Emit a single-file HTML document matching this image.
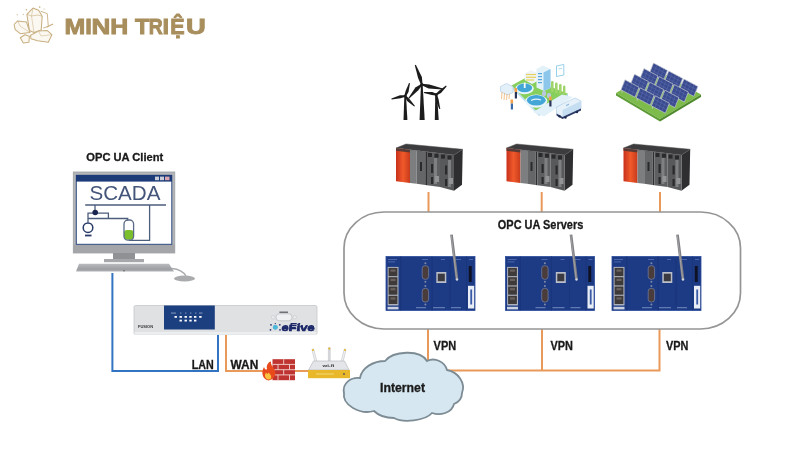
<!DOCTYPE html>
<html><head><meta charset="utf-8"><style>
html,body{margin:0;padding:0;background:#fff;width:800px;height:450px;overflow:hidden}
svg{display:block;position:absolute;left:0;top:0;will-change:transform}
text{font-family:"Liberation Sans",sans-serif}
</style></head><body>
<svg width="800" height="450" viewBox="0 0 800 450">
<defs>
  <linearGradient id="redg" x1="0" x2="1" y1="0" y2="0">
    <stop offset="0" stop-color="#c8301c"/><stop offset="0.5" stop-color="#f05a2a"/><stop offset="1" stop-color="#c83a1c"/>
  </linearGradient>
  <g id="dev">
    <rect x="0" y="0" width="89" height="54" fill="#1d3a84"/>
    <rect x="0" y="0" width="89" height="54" fill="none" stroke="#2b4c9c" stroke-width="0.8"/>
    <g fill="#5a74b4"><rect x="2" y="2.5" width="9" height="0.8"/><rect x="2" y="5" width="7" height="0.8"/><rect x="36" y="2.5" width="6" height="0.8"/><rect x="55" y="2.5" width="4" height="0.8"/><rect x="68" y="2.5" width="7" height="0.8"/><rect x="83" y="2.5" width="4" height="0.8"/></g>
    <path d="M14.8 0 V54 M46 0 V54 M64 4 V50 M80.5 0 V54" stroke="#19347a" stroke-width="0.9"/>
    <rect x="1.6" y="10.4" width="10.9" height="38.6" fill="#aeb3bd"/>
    <g fill="#3f3a3a"><rect x="2.6" y="11.4" width="8.8" height="8.2"/><rect x="2.6" y="20.7" width="8.8" height="8.2"/><rect x="2.6" y="30" width="8.8" height="8.2"/><rect x="2.6" y="39.3" width="8.8" height="8.2"/></g>
    <g fill="#6a625e"><rect x="4.5" y="13" width="5" height="2.2"/><rect x="4.5" y="22.3" width="5" height="2.2"/><rect x="4.5" y="31.6" width="5" height="2.2"/><rect x="4.5" y="40.9" width="5" height="2.2"/></g>
    <rect x="1.5" y="50.3" width="11" height="2.6" fill="#c9d0e0"/>
    <rect x="36.2" y="9.2" width="6.4" height="13.6" rx="2.8" fill="#4a3c3a" stroke="#6a7496" stroke-width="0.9"/>
    <rect x="36.2" y="31.9" width="6.4" height="13.6" rx="2.8" fill="#4a3c3a" stroke="#6a7496" stroke-width="0.9"/>
    <g fill="#7f8aa8"><circle cx="39.4" cy="6.8" r="1"/><circle cx="39.4" cy="25.2" r="1"/><circle cx="39.4" cy="29.5" r="1"/><circle cx="39.4" cy="47.9" r="1"/></g>
    <rect x="50.3" y="15.5" width="10" height="11" fill="#b9bec8"/>
    <rect x="51.8" y="17.2" width="7" height="7.5" fill="#3a3a40"/>
    <rect x="82.8" y="9.5" width="2.9" height="16" fill="#0e1224"/>
    <rect x="82" y="29.3" width="6.2" height="22.7" fill="#e9edf5"/>
    <rect x="84.3" y="33" width="1.8" height="15" fill="#3a5aa8"/>
    <g fill="#7f95c8"><rect x="30" y="50.8" width="10" height="0.9"/><rect x="47" y="50.8" width="12" height="0.9"/><rect x="65" y="50.8" width="10" height="0.9"/></g>
    <line x1="65.5" y1="-21.8" x2="71" y2="23" stroke="#808084" stroke-width="2.7"/>
    <line x1="65.3" y1="-21" x2="70.6" y2="22" stroke="#a8a8ac" stroke-width="0.8"/>
    <circle cx="71" cy="23" r="1.2" fill="#d0d4dc"/>
  </g>
  <g id="plc">
    <polygon points="0,0 10,-4 66.7,1.3 58,7" fill="#3c3c3e"/>
    <polygon points="58,7 66.7,1.3 66,36.7 58,42.7" fill="#2e2e30"/>
    <polygon points="0,0 14,1.7 14,35 0,33.3" fill="url(#redg)"/>
    <polygon points="0,0 14,1.7 14,4.5 0,2.8" fill="#5a3a34"/>
    <polygon points="14,1.7 20.7,2.5 20.7,35.8 14,35" fill="#7c7e80"/>
    <polygon points="20.7,2.5 29.3,3.5 29.3,37 20.7,35.8" fill="#646668"/>
    <polygon points="29.3,3.5 31,3.7 31,37.2 29.3,37" fill="#303032"/>
    <polygon points="31,3.7 44,5.3 44,39 31,37.2" fill="#5d5f61"/>
    <polygon points="44,5.3 58,7 58,42.7 44,39" fill="#58595b"/>
    <g fill="#2a2a2c">
      <rect x="32" y="5" width="4" height="4"/><rect x="38.5" y="5.7" width="4" height="4"/><rect x="45" y="6.6" width="4" height="4"/><rect x="51.5" y="7.4" width="4" height="4"/>
      <rect x="35" y="16" width="2.2" height="9"/><rect x="49" y="17.5" width="2.2" height="9"/>
      <rect x="35" y="29" width="2.2" height="7"/><rect x="49" y="31" width="2.2" height="7"/>
      <rect x="24" y="14" width="2" height="9"/>
    </g>
    <g fill="#7e8082"><rect x="38" y="10" width="3" height="26"/><rect x="52" y="12" width="3" height="27"/></g>
    <g fill="#929496"><rect x="39" y="28" width="4" height="6"/><rect x="53" y="30" width="4" height="6"/></g>
    <polygon points="0,0 10,-4 66.7,1.3 58,7" fill="none" stroke="#555" stroke-width="0.5"/>
  </g>
  <linearGradient id="kbg" x1="0" x2="0" y1="0" y2="1"><stop offset="0" stop-color="#b9bbbe"/><stop offset="0.7" stop-color="#9c9ea1"/><stop offset="1" stop-color="#b0b2b5"/></linearGradient>
</defs>

<!-- LOGO -->
<g id="logo" fill="none" stroke="#c8af80" stroke-width="1.05" stroke-linejoin="round">
  <polygon points="26.9,14.3 33,8.1 38.6,10.2 42.2,16.3 41.2,30.1 34,32.6 29.4,30.6" fill="#fbf8f2"/>
  <polyline points="26.9,14.3 31.5,16 38,15 42.2,16.3" stroke-width="0.6"/>
  <polyline points="33,8.1 31.5,16 34,32.6 M38,15 38.6,10.2" stroke-width="0.5"/>
  <polyline points="40.7,11.2 47.3,13.7 48.3,26.5 43.2,28" stroke-width="0.9"/>
  <polygon points="14.1,24.5 17.7,20.9 26.4,21.9 30,32.6 20.3,33.7 15.2,29.6" fill="#fbf8f2"/>
  <polyline points="17.7,20.9 20,26 30,32.6 M14.1,24.5 20,26" stroke-width="0.5"/>
  <polygon points="30.5,35.2 38.6,31.1 47.3,30.6 51.9,34.7 48.3,42.3 37.6,40.8 31,38.8" fill="#fbf8f2"/>
  <polyline points="38.6,31.1 41,36 51.9,34.7 M31,38.8 41,36 48.3,42.3" stroke-width="0.5"/>
  <polygon points="20.3,37.8 24.9,34.7 29.4,36.2 28.9,42.3 23.3,42.9" fill="#fbf8f2"/>
  <line x1="46.8" y1="27" x2="53" y2="24"/>
  <g fill="#c8af80" stroke="none"><circle cx="26.4" cy="9.7" r="0.8"/><circle cx="39.7" cy="7.1" r="0.8"/><circle cx="23.3" cy="14.3" r="0.6"/><circle cx="17.2" cy="14.8" r="0.6"/><circle cx="44" cy="9" r="0.6"/></g>
</g>
<g id="logotext"><text x="64.40" y="34" font-size="22" font-weight="bold" fill="#a88e5c" stroke="#a88e5c" stroke-width="0.9" textLength="20.76" lengthAdjust="spacingAndGlyphs">M</text><text x="85.3" y="34" font-size="22" font-weight="bold" fill="#a88e5c" stroke="#a88e5c" stroke-width="0.9" textLength="6.6" lengthAdjust="spacingAndGlyphs">I</text><text x="91.50" y="34" font-size="22" font-weight="bold" fill="#a88e5c" stroke="#a88e5c" stroke-width="0.9" textLength="18.84" lengthAdjust="spacingAndGlyphs">N</text><text x="110.20" y="34" font-size="22" font-weight="bold" fill="#a88e5c" stroke="#a88e5c" stroke-width="0.9" textLength="18.00" lengthAdjust="spacingAndGlyphs">H</text><text x="135" y="34" font-size="22" font-weight="bold" fill="#a88e5c" stroke="#a88e5c" stroke-width="0.9" textLength="14.4" lengthAdjust="spacingAndGlyphs">T</text><text x="148.8" y="34" font-size="22" font-weight="bold" fill="#a88e5c" stroke="#a88e5c" stroke-width="0.9" textLength="14.0" lengthAdjust="spacingAndGlyphs">R</text><text x="162.4" y="34" font-size="22" font-weight="bold" fill="#a88e5c" stroke="#a88e5c" stroke-width="0.9" textLength="6.6" lengthAdjust="spacingAndGlyphs">I</text><text x="170.20" y="34" font-size="22" font-weight="bold" fill="#a88e5c" stroke="#a88e5c" stroke-width="0.9" textLength="14.40" lengthAdjust="spacingAndGlyphs">Ệ</text><text x="186.00" y="34" font-size="22" font-weight="bold" fill="#a88e5c" stroke="#a88e5c" stroke-width="0.9" textLength="19.80" lengthAdjust="spacingAndGlyphs">U</text></g>

<!-- MONITOR -->
<g id="monitor">
  <rect x="73.3" y="172" width="101.5" height="81" fill="#b3b5b8" stroke="#9d9fa2" stroke-width="0.8"/>
  <rect x="73.3" y="244.5" width="101.5" height="8.5" fill="#a3a5a8"/>
  <rect x="76.3" y="175.3" width="95.5" height="69" fill="#fff" stroke="#2c4a80" stroke-width="1"/>
  <rect x="76" y="175" width="96" height="6.6" fill="#1d3a78"/>
  <g fill="#c9ccd6"><rect x="155" y="176.6" width="4" height="3.6"/><rect x="160" y="176.6" width="4" height="3.6"/></g>
  <rect x="165" y="176.6" width="4.5" height="3.6" fill="#d9a6b0"/>
  <rect x="113" y="253" width="22" height="6" fill="#8f9194"/>
  <rect x="104" y="259" width="40" height="3.2" fill="#a5a7aa"/>
  <polygon points="79,263.8 169,263.8 174,271.5 76,271.5" fill="url(#kbg)"/>
  <circle cx="124" cy="270.8" r="0.7" fill="#555"/>
  <path d="M172 268.5 Q182 269.5 186 276" stroke="#a8aaad" stroke-width="1.3" fill="none"/>
  <ellipse cx="184.5" cy="278.5" rx="10.5" ry="3" fill="#a9abad"/>
</g>
<g id="scada" fill="none" stroke="#4d5d7c" stroke-width="1.3">
  <path d="M85.2 205 H166 M95 205 V212.5 M88 222.5 V213.1 H108.4 V218.5 M88 218.5 H127.7 V220.5 M129 240.3 H149.6 V205"/>
  <circle cx="95.2" cy="212.5" r="2.8" fill="#1a2550" stroke="none"/>
  <circle cx="88" cy="227.7" r="4.8" fill="#fff" stroke="#2a3a6a" stroke-width="1.5"/>
  <path d="M85 235.5 H91.5" stroke="#2a3a6a" stroke-width="1.8"/>
  <rect x="124" y="230" width="9.5" height="9.8" rx="3" fill="#7cbf2c" stroke="none"/>
  <rect x="124" y="220" width="9.6" height="20.2" rx="4" stroke="#5a6a88"/>
</g>
<text x="89.5" y="200" font-size="21" fill="#44557a" textLength="71" lengthAdjust="spacingAndGlyphs">SCADA</text>

<!-- LINES -->
<g fill="none" stroke-width="2">
  <path d="M112.4 273 V371 H218 V334" stroke="#3274c2"/>
  <path d="M226 334 V371 H345" stroke="#e9995a"/>
  <path d="M428 329 V361 M445 370.5 H659.5 V329 M542 329 V370.5" stroke="#e9995a"/>
  <path d="M428.5 192 V212 M541.7 192 V212 M660 192 V212" stroke="#e9995a"/>
</g>

<!-- EFIVE -->
<g id="efive">
  <rect x="134" y="305.5" width="183" height="29" rx="1.5" fill="#dfe1e3" stroke="#c4c6c9" stroke-width="0.8"/>
  <rect x="134.5" y="332" width="182" height="2.8" fill="#eceef0"/>
  <rect x="164" y="305.5" width="50.8" height="24" fill="#1c3f80"/>
  <g fill="#ffffff">
    <rect x="174.5" y="316" width="2.4" height="1.8"/><rect x="179.5" y="316" width="2.4" height="1.8"/><rect x="184.5" y="316" width="2.4" height="1.8"/><rect x="189.3" y="316" width="2.4" height="1.8"/><rect x="194" y="316" width="2.4" height="1.8"/><rect x="199.2" y="316" width="2.4" height="1.8"/>
    <rect x="179.5" y="319.7" width="2.4" height="1.8"/><rect x="184.5" y="319.7" width="2.4" height="1.8"/><rect x="189.3" y="319.7" width="2.4" height="1.8"/><rect x="194" y="319.7" width="2.4" height="1.8"/>
  </g>
  <g fill="#8fa3c8"><rect x="171" y="312.6" width="5" height="0.9"/><rect x="180" y="312.6" width="1.4" height="0.9"/><rect x="185" y="312.6" width="1.4" height="0.9"/><rect x="190" y="312.6" width="1.4" height="0.9"/><rect x="195" y="312.6" width="1.4" height="0.9"/><rect x="199" y="312.6" width="3.5" height="0.9"/></g>
  <text x="138" y="327.8" font-size="4.2" font-weight="bold" fill="#333" textLength="15" lengthAdjust="spacingAndGlyphs">FUSION</text>
  <rect x="279.4" y="311.5" width="8.6" height="1.6" fill="#6f7174"/>
  <rect x="276" y="313.8" width="16" height="7" rx="3.2" fill="#eef0f2" stroke="#c3c5c8" stroke-width="0.9"/>
  <circle cx="273.2" cy="317.3" r="1.8" fill="#e9ebed" stroke="#c6c8cb" stroke-width="0.6"/>
  <circle cx="294.8" cy="317.3" r="1.8" fill="#e9ebed" stroke="#c6c8cb" stroke-width="0.6"/>
  <g fill="#2a3570"><circle cx="271" cy="324.8" r="0.9"/><circle cx="279.8" cy="324.8" r="0.9"/><circle cx="270.5" cy="329.8" r="0.9"/><circle cx="280" cy="329.8" r="0.9"/><circle cx="275.3" cy="323.6" r="0.7"/></g>
  <circle cx="275.3" cy="327.3" r="2.4" fill="#4cb6dc"/>
  <text x="281.6" y="330.8" font-size="9.8" font-weight="bold" fill="#1f2a6a" stroke="#1f2a6a" stroke-width="0.5" textLength="33" lengthAdjust="spacingAndGlyphs">eFive</text>
</g>
  <circle cx="275.3" cy="327.3" r="2.3" fill="#4fb8d8"/>
  <text x="281.5" y="330.8" font-size="10" font-weight="bold" font-style="italic" fill="#1f2a6a" textLength="33" lengthAdjust="spacingAndGlyphs">eFive</text>
</g>

<!-- ICONS -->
<g id="turbines" fill="#1c1c1c"><polygon points="420.9,85.5 422.7,85.5 424.7,120 419.6,120"/><polygon points="422.6,84.2 421.9,76.9 415.8,64.8 414.8,65.2 418.1,78.1 421.0,84.8"/><polygon points="421.2,83.9 415.4,87.6 408.4,97.9 409.2,98.5 418.3,90.3 422.4,85.1"/><polygon points="421.6,85.3 428.6,88.5 442.6,89.4 442.8,88.4 429.4,84.6 422.0,83.7"/><circle cx="421.8" cy="84.5" r="1.6"/><polygon points="404.3,97.0 406.1,97.0 407.4,120 403.5,120"/><polygon points="406.0,96.3 408.5,92.1 410.0,83.3 409.0,82.9 405.6,91.1 404.4,95.7"/><polygon points="405.0,95.2 400.0,95.2 391.4,98.5 391.6,99.5 400.6,98.2 405.4,96.8"/><polygon points="404.6,96.5 407.1,100.9 414.2,106.5 415.0,105.9 409.3,98.8 405.8,95.5"/><circle cx="405.2" cy="96.0" r="1.6"/><polygon points="435.3,95.6 437.1,95.6 438.7,120 434.8,120"/><polygon points="436.7,95.2 441.0,93.0 446.6,86.4 446.0,85.6 439.0,90.7 435.7,94.0"/><polygon points="436.3,93.8 432.3,92.0 424.1,92.0 423.9,93.0 431.7,95.0 436.1,95.4"/><polygon points="435.4,94.8 435.6,100.1 439.3,109.1 440.3,108.9 438.6,99.4 437.0,94.4"/><circle cx="436.2" cy="94.6" r="1.6"/></g>
<g id="solar"><polygon points="616,93 656,69 701,94.5 660,119" fill="#7dbb4a"/><polygon points="616,93 660,119 660,121.5 616,95.5" fill="#5e9c35"/><polygon points="660,119 701,94.5 701,97 660,121.5" fill="#4f8a2c"/><line x1="650.5" y1="73.5" x2="650.5" y2="76.0" stroke="#c7ccd2" stroke-width="0.8"/><polygon points="649.5,73.0 663.5,80.4 667.5,70.4 653.5,63.0" fill="#3b4b90" stroke="#c9cdd6" stroke-width="0.7"/><line x1="650.8" y1="69.7" x2="664.8" y2="77.0" stroke="#6676b4" stroke-width="0.4"/><line x1="652.2" y1="66.4" x2="666.2" y2="73.7" stroke="#6676b4" stroke-width="0.4"/><line x1="653.0" y1="74.9" x2="657.0" y2="64.9" stroke="#6676b4" stroke-width="0.4"/><line x1="656.5" y1="76.7" x2="660.5" y2="66.7" stroke="#6676b4" stroke-width="0.4"/><line x1="660.0" y1="78.5" x2="664.0" y2="68.5" stroke="#6676b4" stroke-width="0.4"/><line x1="665.7" y1="81.5" x2="665.7" y2="84.0" stroke="#c7ccd2" stroke-width="0.8"/><polygon points="664.7,81.0 678.7,88.4 682.7,78.4 668.7,71.0" fill="#3b4b90" stroke="#c9cdd6" stroke-width="0.7"/><line x1="666.0" y1="77.7" x2="680.0" y2="85.0" stroke="#6676b4" stroke-width="0.4"/><line x1="667.4" y1="74.4" x2="681.4" y2="81.7" stroke="#6676b4" stroke-width="0.4"/><line x1="668.2" y1="82.9" x2="672.2" y2="72.9" stroke="#6676b4" stroke-width="0.4"/><line x1="671.7" y1="84.7" x2="675.7" y2="74.7" stroke="#6676b4" stroke-width="0.4"/><line x1="675.2" y1="86.5" x2="679.2" y2="76.5" stroke="#6676b4" stroke-width="0.4"/><line x1="680.9" y1="89.5" x2="680.9" y2="92.0" stroke="#c7ccd2" stroke-width="0.8"/><polygon points="679.9,89.0 693.9,96.4 697.9,86.4 683.9,79.0" fill="#3b4b90" stroke="#c9cdd6" stroke-width="0.7"/><line x1="681.2" y1="85.7" x2="695.2" y2="93.0" stroke="#6676b4" stroke-width="0.4"/><line x1="682.6" y1="82.4" x2="696.6" y2="89.7" stroke="#6676b4" stroke-width="0.4"/><line x1="683.4" y1="90.9" x2="687.4" y2="80.9" stroke="#6676b4" stroke-width="0.4"/><line x1="686.9" y1="92.7" x2="690.9" y2="82.7" stroke="#6676b4" stroke-width="0.4"/><line x1="690.4" y1="94.5" x2="694.4" y2="84.5" stroke="#6676b4" stroke-width="0.4"/><line x1="641.0" y1="79.1" x2="641.0" y2="81.6" stroke="#c7ccd2" stroke-width="0.8"/><polygon points="640.0,78.6 654.0,86.0 658.0,76.0 644.0,68.6" fill="#3b4b90" stroke="#c9cdd6" stroke-width="0.7"/><line x1="641.3" y1="75.3" x2="655.3" y2="82.6" stroke="#6676b4" stroke-width="0.4"/><line x1="642.7" y1="72.0" x2="656.7" y2="79.3" stroke="#6676b4" stroke-width="0.4"/><line x1="643.5" y1="80.5" x2="647.5" y2="70.5" stroke="#6676b4" stroke-width="0.4"/><line x1="647.0" y1="82.3" x2="651.0" y2="72.3" stroke="#6676b4" stroke-width="0.4"/><line x1="650.5" y1="84.1" x2="654.5" y2="74.1" stroke="#6676b4" stroke-width="0.4"/><line x1="656.2" y1="87.1" x2="656.2" y2="89.6" stroke="#c7ccd2" stroke-width="0.8"/><polygon points="655.2,86.6 669.2,94.0 673.2,84.0 659.2,76.6" fill="#3b4b90" stroke="#c9cdd6" stroke-width="0.7"/><line x1="656.5" y1="83.3" x2="670.5" y2="90.6" stroke="#6676b4" stroke-width="0.4"/><line x1="657.9" y1="80.0" x2="671.9" y2="87.3" stroke="#6676b4" stroke-width="0.4"/><line x1="658.7" y1="88.5" x2="662.7" y2="78.5" stroke="#6676b4" stroke-width="0.4"/><line x1="662.2" y1="90.3" x2="666.2" y2="80.3" stroke="#6676b4" stroke-width="0.4"/><line x1="665.7" y1="92.1" x2="669.7" y2="82.1" stroke="#6676b4" stroke-width="0.4"/><line x1="671.4" y1="95.1" x2="671.4" y2="97.6" stroke="#c7ccd2" stroke-width="0.8"/><polygon points="670.4,94.6 684.4,102.0 688.4,92.0 674.4,84.6" fill="#3b4b90" stroke="#c9cdd6" stroke-width="0.7"/><line x1="671.7" y1="91.3" x2="685.7" y2="98.6" stroke="#6676b4" stroke-width="0.4"/><line x1="673.1" y1="88.0" x2="687.1" y2="95.3" stroke="#6676b4" stroke-width="0.4"/><line x1="673.9" y1="96.5" x2="677.9" y2="86.5" stroke="#6676b4" stroke-width="0.4"/><line x1="677.4" y1="98.3" x2="681.4" y2="88.3" stroke="#6676b4" stroke-width="0.4"/><line x1="680.9" y1="100.1" x2="684.9" y2="90.1" stroke="#6676b4" stroke-width="0.4"/><line x1="631.5" y1="84.7" x2="631.5" y2="87.2" stroke="#c7ccd2" stroke-width="0.8"/><polygon points="630.5,84.2 644.5,91.6 648.5,81.6 634.5,74.2" fill="#3b4b90" stroke="#c9cdd6" stroke-width="0.7"/><line x1="631.8" y1="80.9" x2="645.8" y2="88.2" stroke="#6676b4" stroke-width="0.4"/><line x1="633.2" y1="77.6" x2="647.2" y2="84.9" stroke="#6676b4" stroke-width="0.4"/><line x1="634.0" y1="86.1" x2="638.0" y2="76.1" stroke="#6676b4" stroke-width="0.4"/><line x1="637.5" y1="87.9" x2="641.5" y2="77.9" stroke="#6676b4" stroke-width="0.4"/><line x1="641.0" y1="89.7" x2="645.0" y2="79.7" stroke="#6676b4" stroke-width="0.4"/><line x1="646.7" y1="92.7" x2="646.7" y2="95.2" stroke="#c7ccd2" stroke-width="0.8"/><polygon points="645.7,92.2 659.7,99.6 663.7,89.6 649.7,82.2" fill="#3b4b90" stroke="#c9cdd6" stroke-width="0.7"/><line x1="647.0" y1="88.9" x2="661.0" y2="96.2" stroke="#6676b4" stroke-width="0.4"/><line x1="648.4" y1="85.6" x2="662.4" y2="92.9" stroke="#6676b4" stroke-width="0.4"/><line x1="649.2" y1="94.1" x2="653.2" y2="84.1" stroke="#6676b4" stroke-width="0.4"/><line x1="652.7" y1="95.9" x2="656.7" y2="85.9" stroke="#6676b4" stroke-width="0.4"/><line x1="656.2" y1="97.7" x2="660.2" y2="87.7" stroke="#6676b4" stroke-width="0.4"/><line x1="661.9" y1="100.7" x2="661.9" y2="103.2" stroke="#c7ccd2" stroke-width="0.8"/><polygon points="660.9,100.2 674.9,107.6 678.9,97.6 664.9,90.2" fill="#3b4b90" stroke="#c9cdd6" stroke-width="0.7"/><line x1="662.2" y1="96.9" x2="676.2" y2="104.2" stroke="#6676b4" stroke-width="0.4"/><line x1="663.6" y1="93.6" x2="677.6" y2="100.9" stroke="#6676b4" stroke-width="0.4"/><line x1="664.4" y1="102.1" x2="668.4" y2="92.1" stroke="#6676b4" stroke-width="0.4"/><line x1="667.9" y1="103.9" x2="671.9" y2="93.9" stroke="#6676b4" stroke-width="0.4"/><line x1="671.4" y1="105.7" x2="675.4" y2="95.7" stroke="#6676b4" stroke-width="0.4"/><line x1="622.0" y1="90.3" x2="622.0" y2="92.8" stroke="#c7ccd2" stroke-width="0.8"/><polygon points="621.0,89.8 635.0,97.2 639.0,87.2 625.0,79.8" fill="#3b4b90" stroke="#c9cdd6" stroke-width="0.7"/><line x1="622.3" y1="86.5" x2="636.3" y2="93.8" stroke="#6676b4" stroke-width="0.4"/><line x1="623.7" y1="83.2" x2="637.7" y2="90.5" stroke="#6676b4" stroke-width="0.4"/><line x1="624.5" y1="91.7" x2="628.5" y2="81.7" stroke="#6676b4" stroke-width="0.4"/><line x1="628.0" y1="93.5" x2="632.0" y2="83.5" stroke="#6676b4" stroke-width="0.4"/><line x1="631.5" y1="95.3" x2="635.5" y2="85.3" stroke="#6676b4" stroke-width="0.4"/><line x1="637.2" y1="98.3" x2="637.2" y2="100.8" stroke="#c7ccd2" stroke-width="0.8"/><polygon points="636.2,97.8 650.2,105.2 654.2,95.2 640.2,87.8" fill="#3b4b90" stroke="#c9cdd6" stroke-width="0.7"/><line x1="637.5" y1="94.5" x2="651.5" y2="101.8" stroke="#6676b4" stroke-width="0.4"/><line x1="638.9" y1="91.2" x2="652.9" y2="98.5" stroke="#6676b4" stroke-width="0.4"/><line x1="639.7" y1="99.7" x2="643.7" y2="89.7" stroke="#6676b4" stroke-width="0.4"/><line x1="643.2" y1="101.5" x2="647.2" y2="91.5" stroke="#6676b4" stroke-width="0.4"/><line x1="646.7" y1="103.3" x2="650.7" y2="93.3" stroke="#6676b4" stroke-width="0.4"/><line x1="652.4" y1="106.3" x2="652.4" y2="108.8" stroke="#c7ccd2" stroke-width="0.8"/><polygon points="651.4,105.8 665.4,113.2 669.4,103.2 655.4,95.8" fill="#3b4b90" stroke="#c9cdd6" stroke-width="0.7"/><line x1="652.7" y1="102.5" x2="666.7" y2="109.8" stroke="#6676b4" stroke-width="0.4"/><line x1="654.1" y1="99.2" x2="668.1" y2="106.5" stroke="#6676b4" stroke-width="0.4"/><line x1="654.9" y1="107.7" x2="658.9" y2="97.7" stroke="#6676b4" stroke-width="0.4"/><line x1="658.4" y1="109.5" x2="662.4" y2="99.5" stroke="#6676b4" stroke-width="0.4"/><line x1="661.9" y1="111.3" x2="665.9" y2="101.3" stroke="#6676b4" stroke-width="0.4"/></g>
<g id="water">
  <polygon points="511.5,85.5 539,113.7 539,116 511.5,88" fill="#bfe0f2"/>
  <polygon points="539,113.7 568,93.8 568,96 539,116" fill="#a9d4ee"/>
  <polygon points="511.5,85.5 526.7,77.2 568,93.8 539,113.7" fill="#87cf5c"/>
  <polygon points="533,112 562,94.5 573,97 544,116.5" fill="#e2f0fa"/>
  <ellipse cx="524.6" cy="88.6" rx="9.2" ry="5.6" fill="#e9f5fc"/>
  <ellipse cx="524.6" cy="87.8" rx="7.6" ry="4.4" fill="#44a6d6"/>
  <rect x="523.8" y="82.5" width="1.8" height="5.5" fill="#f4f8fb"/>
  <ellipse cx="536.3" cy="101.2" rx="11" ry="6.6" fill="#e9f5fc"/>
  <ellipse cx="536.3" cy="100.2" rx="9.4" ry="5.3" fill="#44a6d6"/>
  <path d="M531 100.5 Q536 98 541 100" stroke="#e8f6fc" stroke-width="1.2" fill="none"/>
  <polygon points="524.6,73.5 531,70 538.5,73.5 538.5,80.5 532,84 524.6,80" fill="#eef4f8"/>
  <g stroke="#e6d25a" stroke-width="1.2"><line x1="526" y1="74.5" x2="536" y2="74.5"/><line x1="526" y1="77.3" x2="536" y2="77.3"/><line x1="526" y1="80" x2="534" y2="80"/></g>
  <polygon points="536.5,69 543,65.5 550.5,69 550.5,88 544,91 536.5,87.5" fill="#e3f1f9"/>
  <polygon points="543.5,72.5 550.5,69 550.5,88 543.5,91" fill="#8cc6ea"/>
  <g fill="#5aa8dc"><rect x="538" y="73" width="4" height="1.2"/><rect x="538" y="76" width="4" height="1.2"/><rect x="538" y="79" width="4" height="1.2"/><rect x="538" y="82" width="4" height="1.2"/></g>
  <g fill="#9fd46a"><rect x="551" y="81" width="2.6" height="11" rx="1.3"/><rect x="555" y="82.5" width="2.6" height="11" rx="1.3"/><rect x="559" y="84" width="2.6" height="10" rx="1.3"/><rect x="563" y="85.5" width="2.4" height="9" rx="1.2"/></g>
  <g fill="#b9c9dd"><rect x="542" y="91" width="4" height="5" rx="1.5"/><rect x="547" y="93" width="4" height="5" rx="1.5"/></g>
  <polygon points="556.5,107 575,98 581,101 581,108.5 562.5,117 556.5,113.5" fill="#e6f1fa" stroke="#a9c8e2" stroke-width="0.6"/>
  <polygon points="562.5,110 581,101 581,108.5 562.5,117" fill="#c6def2"/>
  <g fill="#8fbbe0"><rect x="566" y="105" width="3" height="1.4" transform="skewY(-26) translate(0,276)"/></g>
  <polygon points="556.5,113.5 562.5,117 581,108.5 581,110.5 562.5,119 556.5,115.5" fill="#2c3a66"/>
  <g fill="#1f2a50"><circle cx="559.5" cy="116.3" r="1.2"/><circle cx="565.5" cy="117.6" r="1.2"/><circle cx="577" cy="112" r="1.2"/></g>
  <polygon points="500.5,86.5 506.5,83.4 513,86.8 513,92.5 507,95 500.5,91.5" fill="#e3f0f9" stroke="#a9c9e3" stroke-width="0.6"/>
  <g stroke="#f0b070" stroke-width="0.8"><line x1="502" y1="92" x2="501.5" y2="99"/><line x1="504.5" y1="93" x2="504" y2="100"/><line x1="507" y1="94" x2="506.5" y2="100"/><line x1="509.5" y1="94" x2="509" y2="99"/></g>
  <polygon points="556.5,66 563.8,64.5 563.8,75 556.5,76.5" fill="none" stroke="#8ccbe8" stroke-width="0.9"/>
  <line x1="558.5" y1="69" x2="562" y2="68.3" stroke="#8ccbe8" stroke-width="0.7"/>
  <g><rect x="514.5" y="88" width="2.6" height="4" fill="#f2a24a"/><rect x="514.8" y="92" width="2.2" height="6.5" fill="#2a3458"/>
     <rect x="510.5" y="99.5" width="2.6" height="4" fill="#f2a24a"/><rect x="510.8" y="103.5" width="2.2" height="6" fill="#3a6aa8"/>
     <rect x="549" y="96.5" width="2.6" height="4" fill="#f2a24a"/><rect x="549.3" y="100.5" width="2.2" height="6" fill="#2a3458"/></g>
</g>

<!-- PLCS -->
<use href="#plc" transform="translate(396,148)"/>
<use href="#plc" transform="translate(506.5,148)"/>
<use href="#plc" transform="translate(623.5,148)"/>
<!-- DEVICES -->
<use href="#dev" transform="translate(386,256.5)"/>
<use href="#dev" transform="translate(505.5,256.5)"/>
<use href="#dev" transform="translate(612,256.5)"/>
<!-- SERVERS BOX -->
<rect x="344" y="212" width="396.5" height="117" rx="40" ry="36" fill="none" stroke="#959595" stroke-width="1.7"/>
<text x="497.8" y="229" font-size="12" font-weight="bold" fill="#1a1a1a" stroke="#1a1a1a" stroke-width="0.3" textLength="85.5" lengthAdjust="spacingAndGlyphs">OPC UA Servers</text>

<!-- FIREWALL -->
<g id="firewall">
  <rect x="272.5" y="359.2" width="22.5" height="21" fill="#bf3430"/>
  <g stroke="#f3d6d2" stroke-width="0.9" fill="none">
    <path d="M272.5 364.4 H295 M272.5 369.7 H295 M272.5 374.9 H295"/>
    <path d="M283.7 359.2 V364.4 M278 364.4 V369.7 M289.5 364.4 V369.7 M283.7 369.7 V374.9 M278 374.9 V380.2 M289.5 374.9 V380.2"/>
  </g>
  <path d="M268.5 380.5 C262 379 261 372 264 367 C265 370 266.5 370 267 369 C266 365 268.5 362 271 361.5 C270.5 364.5 272.5 366.5 274 368.5 C276.5 372 276 379 268.5 380.5 Z" fill="#e84a1c"/>
  <path d="M268.5 379.5 C265 379 264 375.5 266 372.5 C267 374.5 268 374 268.3 372.6 C270 374 272.5 376.5 270.5 379.2 Z" fill="#f9c23c"/>
</g>

<!-- ROUTER -->
<g id="router">
  <path d="M316.5 364 L313 350 M329.3 362.5 L329.3 348.5 M341.5 364 L345 350" stroke="#d3d5d9" stroke-width="2.8" stroke-linecap="round"/>
  <path d="M316.5 364 L313 350 M341.5 364 L345 350" stroke="#f1f2f3" stroke-width="1" stroke-linecap="round"/>
  <g fill="#e6b830"><circle cx="313" cy="350" r="1.1"/><circle cx="329.3" cy="348.6" r="1.1"/><circle cx="345" cy="350" r="1.1"/></g>
  <polygon points="313.5,361 344.5,361 349,370 308.5,370" fill="#e4e5e8" stroke="#b9bbbf" stroke-width="0.7"/>
  <text x="322.5" y="366.6" font-size="4" font-weight="bold" fill="#333" textLength="12" lengthAdjust="spacingAndGlyphs">wi-fi</text>
  <rect x="308" y="370" width="42" height="8.2" fill="#e8b82a"/>
  <rect x="316" y="373.5" width="18" height="1" fill="#f3d97a"/>
  <circle cx="344" cy="374" r="0.9" fill="#555"/>
</g>

<!-- CLOUD -->
<g id="cloud">
  <path d="M344 393 C342 383 351 377 360 378 C362 367 374 361 385 361 C393 351 420 349 427 361 C435 357 445 362 447 370 C458 372 466 383 462 393 C462 399 459 402 454 404 C452 413 440 416 432 413 C425 421 403 423 394 418 C386 418 378 415 374 411 C360 415 342 405 344 393 Z" fill="#d6e7f1" stroke="#7d8c94" stroke-width="1.8"/>
</g>
<text x="380" y="391.5" font-size="12" font-weight="bold" fill="#1a1a1a" stroke="#1a1a1a" stroke-width="0.3" textLength="45" lengthAdjust="spacingAndGlyphs">Internet</text>

<!-- TEXTS -->
<text x="86.3" y="161.2" font-size="11" font-weight="bold" fill="#1a1a1a" stroke="#1a1a1a" stroke-width="0.3" textLength="77" lengthAdjust="spacingAndGlyphs">OPC UA Client</text>
<text x="191.8" y="369" font-size="12" font-weight="bold" fill="#1a1a1a" stroke="#1a1a1a" stroke-width="0.3" textLength="22" lengthAdjust="spacingAndGlyphs">LAN</text>
<text x="230.5" y="369" font-size="12" font-weight="bold" fill="#1a1a1a" stroke="#1a1a1a" stroke-width="0.3" textLength="27.8" lengthAdjust="spacingAndGlyphs">WAN</text>
<text x="433.6" y="349.6" font-size="12" font-weight="bold" fill="#1a1a1a" stroke="#1a1a1a" stroke-width="0.3" textLength="22.6" lengthAdjust="spacingAndGlyphs">VPN</text>
<text x="550.4" y="349.6" font-size="12" font-weight="bold" fill="#1a1a1a" stroke="#1a1a1a" stroke-width="0.3" textLength="22.4" lengthAdjust="spacingAndGlyphs">VPN</text>
<text x="665.9" y="349.6" font-size="12" font-weight="bold" fill="#1a1a1a" stroke="#1a1a1a" stroke-width="0.3" textLength="22.4" lengthAdjust="spacingAndGlyphs">VPN</text>
</svg>
</body></html>
